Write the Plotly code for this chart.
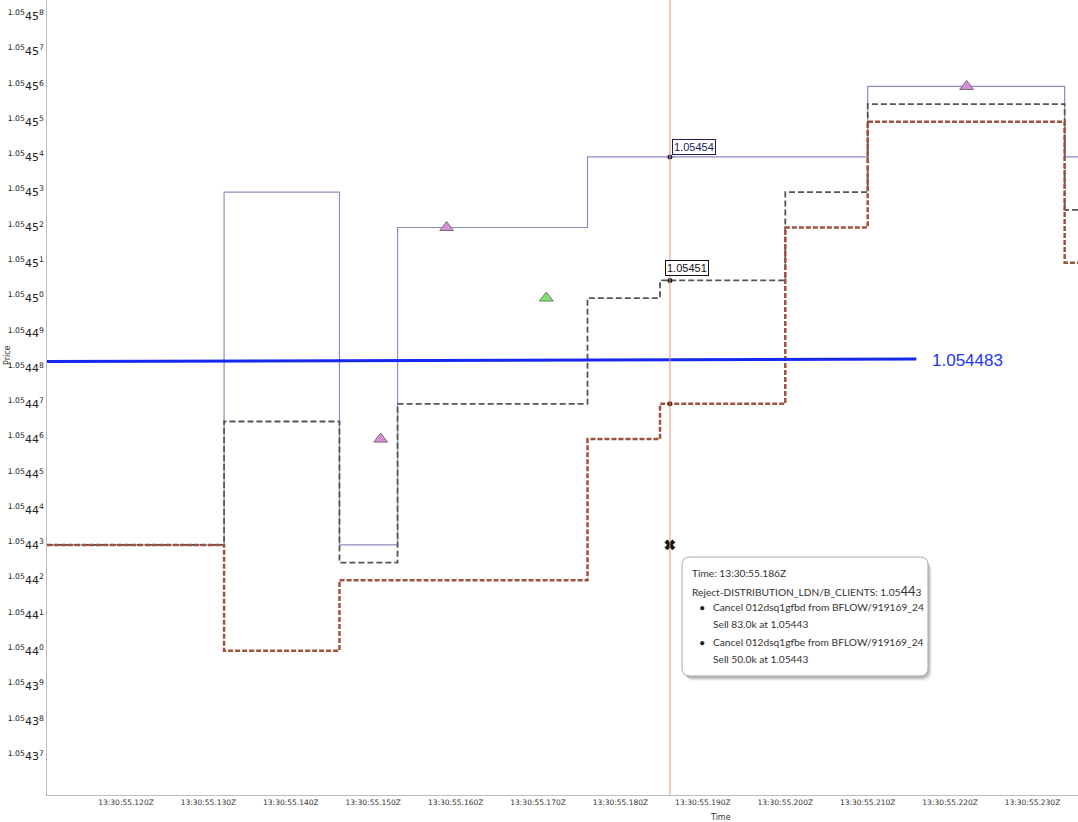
import pandas as pd
import plotly.graph_objects as go

# ---------------- data ----------------
BASE = pd.Timestamp("2024-01-01 13:30:55")

# ask (thin lavender step line) : change times in ms after 13:30:55
ask_ms = [110.4, 131.9, 145.9, 152.95, 176.0, 210.0, 233.9, 235.6]
ask_px = [1.05443, 1.05453, 1.05443, 1.05452, 1.05454, 1.05456, 1.05454, 1.05454]

# mid (dark grey dashed step line)
mid_ms = [110.4, 131.9, 145.9, 152.95, 176.0, 184.8, 200.0, 210.0, 233.9, 235.6]
mid_px = [1.05443, 1.054465, 1.054425, 1.05447, 1.0545, 1.054505, 1.05453, 1.054555, 1.054525, 1.054525]

# bid (brown dotted step line)
bid_ms = [110.4, 131.9, 145.9, 176.0, 184.8, 200.0, 210.0, 233.9, 235.6]
bid_px = [1.05443, 1.0544, 1.05442, 1.05446, 1.05447, 1.05452, 1.05455, 1.05451, 1.05451]

# reference level (blue)
ref_ms = [110.4, 215.9]
ref_px = [1.054482, 1.0544827]
ref_label = "1.054483"

# trade markers
pink_ms = [150.9, 158.9, 222.0]
pink_px = [1.05446, 1.05452, 1.05456]
green_ms = [171.0]
green_px = [1.0545]

# reject marker
reject_ms = [186.0]
reject_px = [1.05443]

# crosshair
cross_ms = 186.0
cross_vals = {"ask": 1.05454, "mid": 1.054505, "bid": 1.05447}
cross_labels = {"ask": "1.05454", "mid": "1.05451"}

x_tick_ms = [120, 130, 140, 150, 160, 170, 180, 190, 200, 210, 220, 230]
x_tick_labels = ["13:30:55.120Z", "13:30:55.130Z", "13:30:55.140Z", "13:30:55.150Z",
                 "13:30:55.160Z", "13:30:55.170Z", "13:30:55.180Z", "13:30:55.190Z",
                 "13:30:55.200Z", "13:30:55.210Z", "13:30:55.220Z", "13:30:55.230Z"]

y_ticks = ["1.05437", "1.05438", "1.05439", "1.05440", "1.05441", "1.05442", "1.05443",
           "1.05444", "1.05445", "1.05446", "1.05447", "1.05448", "1.05449", "1.05450",
           "1.05451", "1.05452", "1.05453", "1.05454", "1.05455", "1.05456", "1.05457",
           "1.05458"]

tooltip_lines = [
    "Time: 13:30:55.186Z",
    "Reject-DISTRIBUTION_LDN/B_CLIENTS: 1.05<span style='font-size:13px'>44</span>3",
    "Cancel 012dsq1gfbd from BFLOW/919169_24",
    "Sell 83.0k at 1.05443",
    "Cancel 012dsq1gfbe from BFLOW/919169_24",
    "Sell 50.0k at 1.05443",
]


def t(ms):
    if isinstance(ms, (list, tuple)):
        return [BASE + pd.to_timedelta(m, unit="ms") for m in ms]
    return BASE + pd.to_timedelta(ms, unit="ms")


# ---------------- layout geometry ----------------
W, H = 1078, 822
L, R, T, B = 47, 0, 0, 27
PW, PH = W - L - R, H - T - B


def px2paper(x, y):
    return (x - L) / PW, (T + PH - y) / PH


fig = go.Figure()

fig.add_trace(go.Scatter(x=t(ask_ms), y=ask_px, mode="lines", line_shape="hv",
                         line=dict(color="#8c8cc4", width=1.2), hoverinfo="skip"))
fig.add_trace(go.Scatter(x=t(mid_ms), y=mid_px, mode="lines", line_shape="hv",
                         line=dict(color="#555555", width=1.8, dash="6px,3px"), hoverinfo="skip"))
fig.add_trace(go.Scatter(x=t(bid_ms), y=bid_px, mode="lines", line_shape="hv",
                         line=dict(color="#a0523f", width=2.5, dash="5px,2px"), hoverinfo="skip"))
fig.add_trace(go.Scatter(x=t(ref_ms), y=ref_px, mode="lines",
                         line=dict(color="#1428f0", width=3), hoverinfo="skip"))
fig.add_trace(go.Scatter(x=t(pink_ms), y=pink_px, mode="markers",
                         marker=dict(symbol="triangle-up", size=12, color="#d58fd5",
                                     line=dict(color="#7a6a7a", width=1))))
fig.add_trace(go.Scatter(x=t(green_ms), y=green_px, mode="markers",
                         marker=dict(symbol="triangle-up", size=12, color="#80e070",
                                     line=dict(color="#6a7a6a", width=1))))
fig.add_trace(go.Scatter(x=t(reject_ms), y=reject_px, mode="markers",
                         marker=dict(symbol="x", size=9, color="#111111",
                                     line=dict(color="#111111", width=0.5))))

# crosshair
fig.add_shape(type="line", xref="x", yref="paper", x0=t(cross_ms), x1=t(cross_ms), y0=0, y1=1,
              line=dict(color="#d99585", width=1))
fig.add_trace(go.Scatter(x=t([cross_ms] * 3),
                         y=[cross_vals["ask"], cross_vals["mid"], cross_vals["bid"]],
                         mode="markers",
                         marker=dict(size=5, color=["#1e1e5a", "#111111", "#6a1a10"])))

fig.add_annotation(x=t(cross_ms), y=cross_vals["ask"], xref="x", yref="y",
                   text=cross_labels["ask"], showarrow=False, xanchor="left", yanchor="bottom",
                   xshift=2, yshift=2, font=dict(size=11, color="#20205e", family="Liberation Sans"),
                   bgcolor="white", bordercolor="#20205e", borderwidth=1, borderpad=1)
fig.add_annotation(x=t(cross_ms), y=cross_vals["mid"], xref="x", yref="y",
                   text=cross_labels["mid"], showarrow=False,
                   xanchor="left", yanchor="bottom",
                   xshift=-5, yshift=4, font=dict(size=11, color="#111111", family="Liberation Sans"),
                   bgcolor="white", bordercolor="#111111", borderwidth=1, borderpad=1)

# blue level label
fig.add_annotation(x=t(ref_ms[1]), y=ref_px[1], xref="x", yref="y", text=ref_label,
                   showarrow=False, xanchor="left", yanchor="middle", xshift=14, yshift=-1,
                   font=dict(size=17, color="#2236ee", family="Liberation Sans"))


# tooltip box (rounded) with shadow
def rounded_path(x0, y0, x1, y1, r):
    def P(x, y):
        px_, py_ = px2paper(x, y)
        return f"{px_:.6f},{py_:.6f}"
    pts = [f"M{P(x0 + r, y0)}", f"L{P(x1 - r, y0)}", f"Q{P(x1, y0)} {P(x1, y0 + r)}",
           f"L{P(x1, y1 - r)}", f"Q{P(x1, y1)} {P(x1 - r, y1)}", f"L{P(x0 + r, y1)}",
           f"Q{P(x0, y1)} {P(x0, y1 - r)}", f"L{P(x0, y0 + r)}", f"Q{P(x0, y0)} {P(x0 + r, y0)}", "Z"]
    return " ".join(pts)


for off, op in [(5, 0.05), (4, 0.07), (3, 0.09), (2, 0.1)]:
    fig.add_shape(type="path", xref="paper", yref="paper",
                  path=rounded_path(682 + off - 1, 557 + off, 928 + off - 1, 676 + off, 9),
                  fillcolor=f"rgba(0,0,0,{op})", line=dict(width=0), layer="above")
fig.add_shape(type="path", xref="paper", yref="paper",
              path=rounded_path(682, 557, 928, 676, 8),
              fillcolor="white", line=dict(color="#aaaaaa", width=1), layer="above")

TF = "Lato"
line_pos = [(690, 573), (690, 591), (711, 607), (711, 624), (711, 642), (711, 659)]
for txt, (lx, ly) in zip(tooltip_lines, line_pos):
    px_, py_ = px2paper(lx, ly)
    fig.add_annotation(x=px_, y=py_, xref="paper", yref="paper", text=txt, showarrow=False,
                       xanchor="left", yanchor="middle", font=dict(size=10.2, color="#333333", family=TF))
for by in (607, 642):
    px_, py_ = px2paper(697, by)
    fig.add_annotation(x=px_, y=py_, xref="paper", yref="paper", text="•", showarrow=False,
                       xanchor="left", yanchor="middle", font=dict(size=11, color="#222222", family=TF))

# axis titles
ax_, ay_ = px2paper(7, 355)
fig.add_annotation(x=ax_, y=ay_, xref="paper", yref="paper", text="Price", textangle=-90,
                   xanchor="center", yanchor="middle",
                   showarrow=False, font=dict(size=8, color="#333333", family="DejaVu Sans"))
ax_, ay_ = px2paper(720, 817)
fig.add_annotation(x=ax_, y=ay_, xref="paper", yref="paper", text="Time",
                   xanchor="center", yanchor="middle",
                   showarrow=False, font=dict(size=8, color="#333333", family="DejaVu Sans"))

ticktext = [f"<sup>{s[:4]}</sup>{s[4:6]}<sup>{s[6]}</sup>" for s in y_ticks]

fig.update_layout(
    width=W, height=H,
    margin=dict(l=L, r=R, t=T, b=B),
    paper_bgcolor="white", plot_bgcolor="white",
    showlegend=False,
    xaxis=dict(type="date", range=[t(110.41), t(235.52)],
               tickvals=t(x_tick_ms), ticktext=x_tick_labels,
               showgrid=False, zeroline=False, showline=True, linecolor="#bbbbbb", linewidth=1,
               ticks="", tickfont=dict(size=7.5, color="#333333", family="DejaVu Sans"),
               automargin=False),
    yaxis=dict(range=[1.0543591, 1.0545845], tickvals=[float(s) for s in y_ticks], ticktext=ticktext,
               showgrid=False, zeroline=False, showline=True, linecolor="#bbbbbb", linewidth=1,
               ticks="", tickfont=dict(size=11, color="#222222", family="DejaVu Sans"),
               automargin=False),
)

fig.write_html("out.html", config={"displayModeBar": False},
               post_script="document.body.style.margin='0';document.body.style.padding='0';")
